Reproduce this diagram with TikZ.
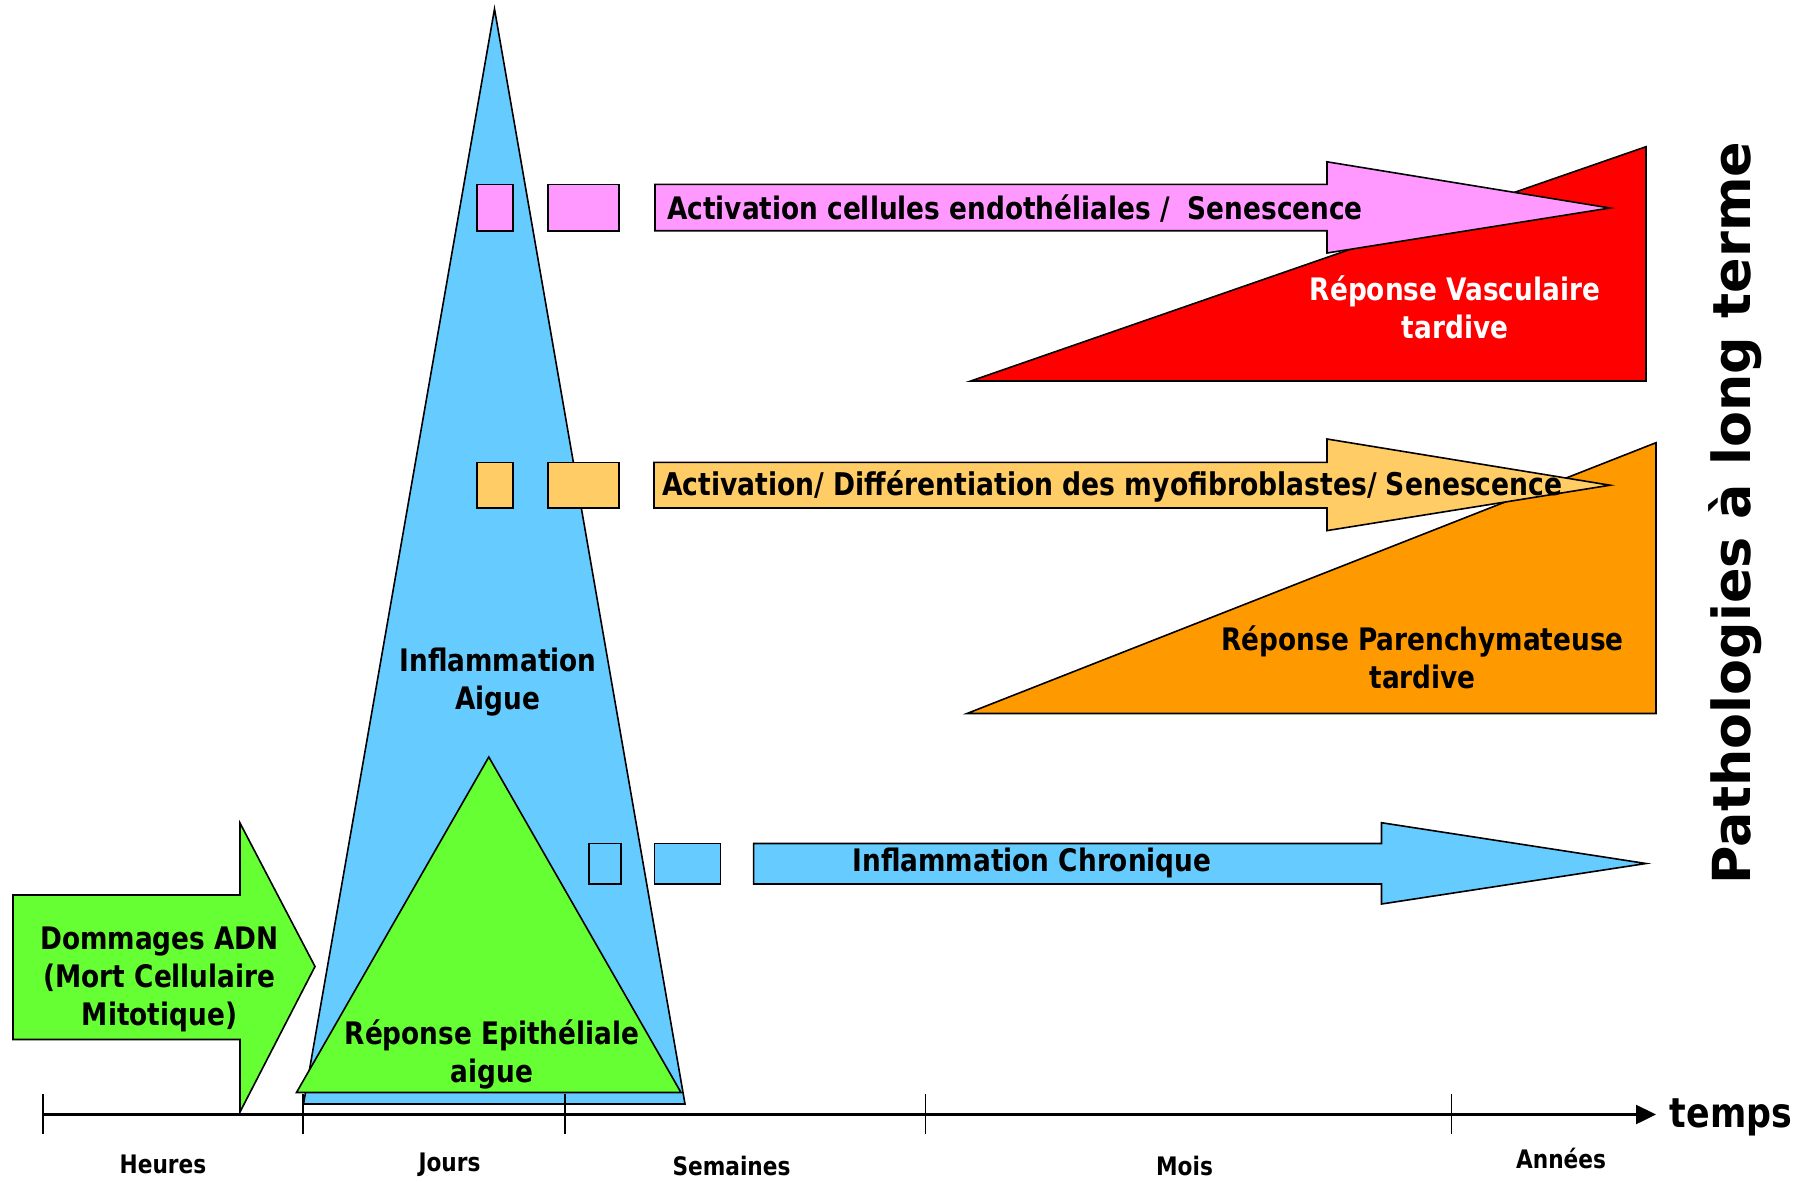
\documentclass[tikz,border=0pt]{standalone}
\usepackage{fontspec}
\newfontfamily\tah{DejaVu Sans}[FakeStretch=0.85]
\newfontfamily\verd{DejaVu Sans}
\usetikzlibrary{arrows.meta}
\definecolor{cblue}{HTML}{66CCFF}
\definecolor{cgreen}{HTML}{66FF33}
\definecolor{cpink}{HTML}{FF99FF}
\definecolor{cred}{HTML}{FF0000}
\definecolor{clorange}{HTML}{FFCC66}
\definecolor{corange}{HTML}{FF9900}
\begin{document}
\begin{tikzpicture}[x=1pt,y=-1pt,
  shp/.style={draw=black,line width=1.6pt,line join=miter},
  big/.style={font=\tah\bfseries\fontsize{31}{38}\selectfont,align=center,inner sep=0pt},
  axlab/.style={font=\tah\bfseries\fontsize{25.5}{30}\selectfont,inner sep=0pt},
  tickline/.style={line width=1.4pt}]
\useasboundingbox[fill=white] (0,0) rectangle (1812,1181);
% big blue triangle
\draw[shp,fill=cblue] (494.5,9) -- (685,1104) -- (303.5,1104) -- cycle;
% green triangle
\draw[shp,fill=cgreen] (488.8,757) -- (681,1092.5) -- (296.5,1092.5) -- cycle;
% green arrow
\draw[shp,fill=cgreen] (13,895) -- (240,895) -- (240,823) -- (315,966.5) -- (240,1112) -- (240,1039.5) -- (13,1039.5) -- cycle;
% small rectangles
\draw[shp,fill=cpink] (477,184.3) rectangle (513,230.7);
\draw[shp,fill=cpink] (548,184.3) rectangle (619,230.7);
\draw[shp,fill=clorange] (477,462.3) rectangle (513,508);
\draw[shp,fill=clorange] (548,462.3) rectangle (619,508);
\draw[shp,fill=cblue] (589,843.5) rectangle (621,884);
\draw[shp,fill=cblue] (654.5,843.5) rectangle (720.5,884);
% red triangle and pink arrow
\draw[shp,fill=cred] (970.8,381) -- (1646,381) -- (1646,146.7) -- cycle;
\draw[shp,fill=cpink] (655,184.3) -- (1327,184.3) -- (1327,161.8) -- (1610,208) -- (1327,253) -- (1327,230.7) -- (655,230.7) -- cycle;
% orange triangle and light orange arrow
\draw[shp,fill=corange] (967,713.5) -- (1656,713.5) -- (1656,442.7) -- cycle;
\draw[shp,fill=clorange] (654,462.3) -- (1327,462.3) -- (1327,439) -- (1610,485.2) -- (1327,530.6) -- (1327,508) -- (654,508) -- cycle;
% blue chronic arrow
\draw[shp,fill=cblue] (753.6,843.5) -- (1381.5,843.5) -- (1381.5,822.7) -- (1646,863.5) -- (1381.5,904) -- (1381.5,884) -- (753.6,884) -- cycle;
% time axis
\coordinate (axs) at (42.8,1114.5);
\coordinate (axe) at (1656,1114.5);
\draw[line width=2.4pt,-{Triangle[length=20pt,width=19pt]}] (axs) -- (axe);
\foreach \tx in {42.8,303,565,925.5,1451.5}
  \draw[tickline] (\tx,1094) -- (\tx,1134);
% texts
\node[big] (dna) at (159.5,979) {Dommages ADN\\(Mort Cellulaire\\Mitotique)};
\node[big] (infa) at (498,682.5) {Inflammation\\Aigue};
\node[big] (epi) at (492,1054.5) {R\'eponse Epith\'eliale\\aigue};
\node[big,text=white] (vasc) at (1455,307) {R\'eponse Vasculaire\\tardive};
\node[big] (par) at (1422.6,657) {R\'eponse Parenchymateuse\\tardive};
\node[big,anchor=west] (endo) at (667,209) {Activation cellules endoth\'eliales /\ \ Senescence};
\node[big,anchor=west,font=\tah\bfseries\fontsize{31.3}{38}\selectfont] (myo) at (662,486) {Activation/ Diff\'erentiation des myofibroblastes/ Senescence};
\node[big] (chro) at (1032,863) {Inflammation Chronique};
\node[axlab] (h) at (163,1164) {Heures};
\node[axlab] (j) at (449.5,1165) {Jours};
\node[axlab] (s) at (731.5,1166) {Semaines};
\node[axlab] (m) at (1184.5,1166) {Mois};
\node[axlab] (a) at (1561,1158) {Ann\'ees};
\node[font=\tah\bfseries\fontsize{41}{48}\selectfont,inner sep=0pt] (temps) at (1731,1117) {temps};
\node[font=\verd\bfseries\fontsize{52.4}{60}\selectfont,inner sep=0pt,rotate=90] (path) at (1735,513) {Pathologies \`a long terme};
\end{tikzpicture}
\end{document}
